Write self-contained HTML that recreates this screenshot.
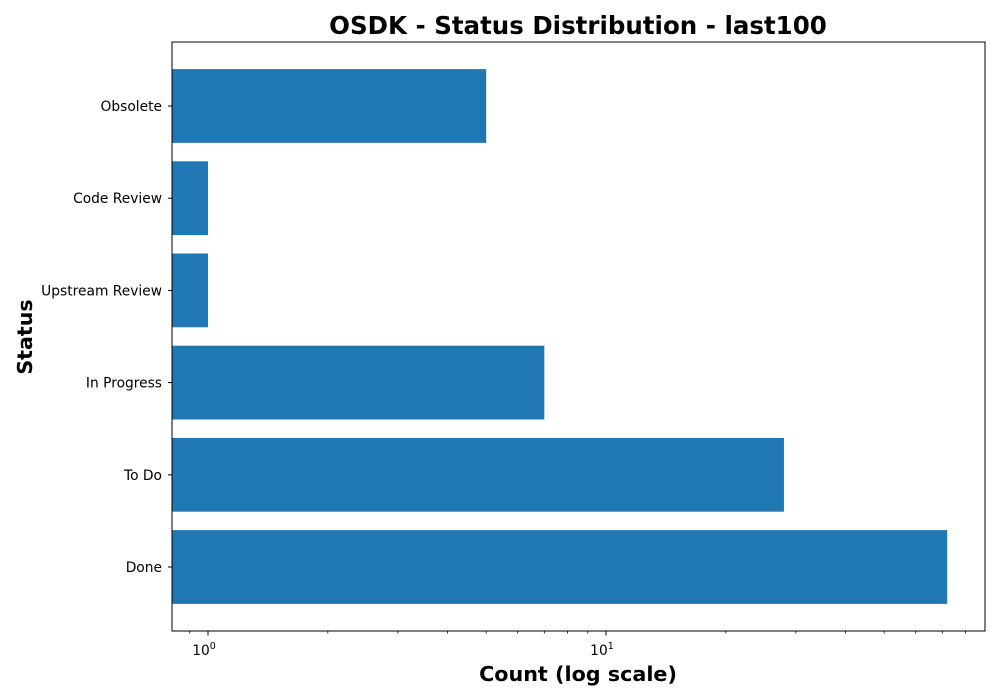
<!DOCTYPE html>
<html><head><meta charset="utf-8"><style>
body{margin:0;background:#fff;font-family:"DejaVu Sans","Liberation Sans",sans-serif;}
svg{display:block}
</style></head><body>
<svg id="chart" width="1000" height="700" xmlns="http://www.w3.org/2000/svg" font-family="DejaVu Sans, Liberation Sans, sans-serif">
<rect width="1000" height="700" fill="#fff"/>
<text x="578" y="34" text-anchor="middle" font-size="24.5" font-weight="bold">OSDK - Status Distribution - last100</text>
<text x="578" y="681" text-anchor="middle" font-size="20.7" font-weight="bold">Count (log scale)</text>
<text transform="translate(32,337) rotate(-90)" text-anchor="middle" font-size="20.6" font-weight="bold">Status</text>
<g id="bars"></g>
<g id="axes"></g>
</svg>
<script>
const categories = ["Done","To Do","In Progress","Upstream Review","Code Review","Obsolete"];
const counts = [72, 28, 7, 1, 1, 5];
const majorTicks = [1, 10];
const majorLabels = ["0", "1"];
const minorTicks = [0.9,2,3,4,5,6,7,8,9,20,30,40,50,60,70,80];

const L=172,R=985,T=42,B=631;
const xmin=Math.log10(0.812), xmax=Math.log10(89.6);
const xs=v=>L+(Math.log10(v)-xmin)/(xmax-xmin)*(R-L);
const ymin=-0.694, ymax=5.694;
const ys=i=>B-(i-ymin)/(ymax-ymin)*(B-T);
const band=(B-T)/(ymax-ymin);
const NS="http://www.w3.org/2000/svg";
function mk(tag,attrs,parent){const e=document.createElementNS(NS,tag);for(const k in attrs)e.setAttribute(k,attrs[k]);parent.appendChild(e);return e;}
const gb=document.getElementById('bars'), ga=document.getElementById('axes');
categories.forEach((c,i)=>{
  const x2=xs(counts[i]);
  const r=mk('rect',{x:L,y:ys(i)-0.4*band,width:Math.max(0,x2-L),height:0.8*band,fill:'#1f77b4'},gb);
  
  
  mk('line',{x1:L,x2:L-4,y1:ys(i),y2:ys(i),stroke:'#000','stroke-width':1},ga);
  const t=mk('text',{x:L-10,y:ys(i)+5,'text-anchor':'end','font-size':13.8},ga);
  t.textContent=c;
  
  
});
const fr=mk('rect',{x:L,y:T,width:R-L,height:B-T,fill:'none',stroke:'#000','stroke-width':1},ga);


minorTicks.forEach(v=>{mk('line',{x1:xs(v),x2:xs(v),y1:B,y2:B+2.5,stroke:'#000','stroke-width':0.8},ga);});
majorTicks.forEach((v,i)=>{
  mk('line',{x1:xs(v),x2:xs(v),y1:B,y2:B+4.5,stroke:'#000','stroke-width':1},ga);
  const t=mk('text',{x:xs(v)-4,y:B+24,'text-anchor':'middle','font-size':13.8},ga);
  
  
  t.textContent='10';
  const s=mk('tspan',{dy:-6,'font-size':9.5},t);
  s.textContent=majorLabels[i];
});
</script>
</body></html>
